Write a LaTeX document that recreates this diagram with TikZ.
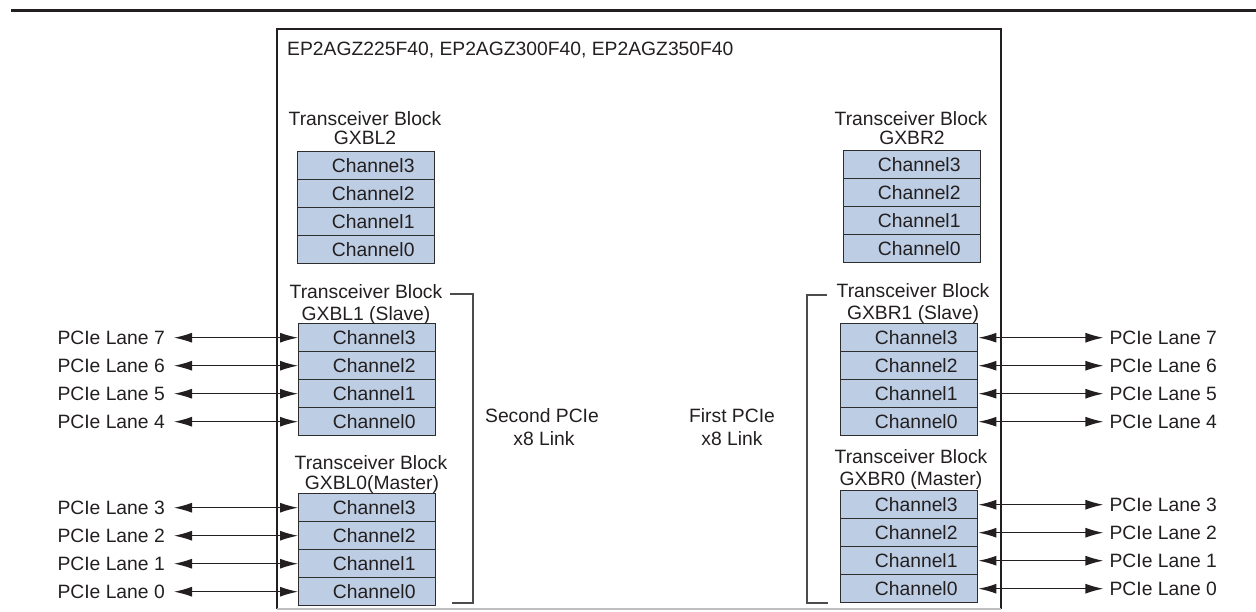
\documentclass[tikz,border=0pt]{standalone}
\usepackage{fontspec}
\setmainfont{Liberation Sans}
\usetikzlibrary{arrows.meta}
\definecolor{chfill}{RGB}{189,205,228}
\definecolor{txt}{RGB}{35,31,32}
\definecolor{edge}{RGB}{45,45,45}
\newcommand\txblock[4]{%
  \foreach \i/\k in {0/3,1/2,2/1,3/0} {
    \node[chan, minimum height=#4pt] (#1c\k) at (#2, {#3+\i*#4}) {\hspace*{14pt}Channel\k};
  }}
\begin{document}
\begin{tikzpicture}[x=1pt,y=-1pt,
  font=\fontsize{19.3}{23}\selectfont,
  every node/.style={text=txt, inner sep=0pt, text height=14pt, text depth=0pt},
  chan/.style={draw=edge, fill=chfill, line width=1.4pt, minimum width=137pt, anchor=north west},
  lane/.style={>={Latex[length=18pt,width=10pt]}, <->, line width=1.2pt, draw=txt},
  brk/.style={draw=edge!85, line width=1.6pt},
  chip/.style={draw=txt, line width=1.3pt}]
\useasboundingbox (0,0) rectangle (1256,611);
% header rule
\draw[line width=2.5pt, draw=txt] (11,10.5) -- (1256,10.5);
% device outline
\draw[chip] (277,609) -- (277,29) -- (1001,29) -- (1001,609);
\draw[draw=gray!50, line width=1.2pt] (277,609) -- (1001,609);
\node[anchor=west] (dev) at (287,48) {EP2AGZ225F40, EP2AGZ300F40, EP2AGZ350F40};
% blocks
\txblock{L2}{297}{151}{28}
\txblock{R2}{843}{150}{28}
\txblock{L1}{298}{323}{28}
\txblock{R1}{840}{323}{28}
\txblock{L0}{298}{493}{28}
\txblock{R0}{840}{490}{28}
% titles
\node (tL2a) at (365,118) {Transceiver Block};
\node (tL2b) at (365,137) {GXBL2};
\node (tR2a) at (911,118) {Transceiver Block};
\node (tR2b) at (912,137) {GXBR2};
\node (tL1a) at (366,291) {Transceiver Block};
\node (tL1b) at (366,313) {GXBL1 (Slave)};
\node (tR1a) at (913,290) {Transceiver Block};
\node (tR1b) at (913,312) {GXBR1 (Slave)};
\node (tL0a) at (371,462) {Transceiver Block};
\node (tL0b) at (372,482) {GXBL0(Master)};
\node (tR0a) at (911,456) {Transceiver Block};
\node (tR0b) at (911,478) {GXBR0 (Master)};
% middle labels
\node (sp1) at (542,415) {Second PCIe};
\node (sp2) at (544,438) {x8 Link};
\node (fp1) at (732,415) {First PCIe};
\node (fp2) at (732,438) {x8 Link};
% brackets
\draw[brk] (450,294) -- (473,294) -- (473,603) -- (452,603);
\draw[brk] (827,295) -- (807,295) -- (807,603) -- (828,603);
% left lanes
\foreach \b/\c/\n in {L1/3/7,L1/2/6,L1/1/5,L1/0/4,L0/3/3,L0/2/2,L0/1/1,L0/0/0} {
  \node[anchor=east] (ll\n) at ([xshift=-133pt]\b c\c.west) {PCIe Lane \n};
  \draw[lane] ([xshift=9pt]ll\n.east) -- (\b c\c.west);
}
% right lanes
\foreach \b/\c/\n in {R1/3/7,R1/2/6,R1/1/5,R1/0/4,R0/3/3,R0/2/2,R0/1/1,R0/0/0} {
  \node[anchor=west] (rl\n) at ([xshift=131pt]\b c\c.east) {PCIe Lane \n};
  \draw[lane] (\b c\c.east) -- ([xshift=-6pt]rl\n.west);
}
\end{tikzpicture}
\end{document}
